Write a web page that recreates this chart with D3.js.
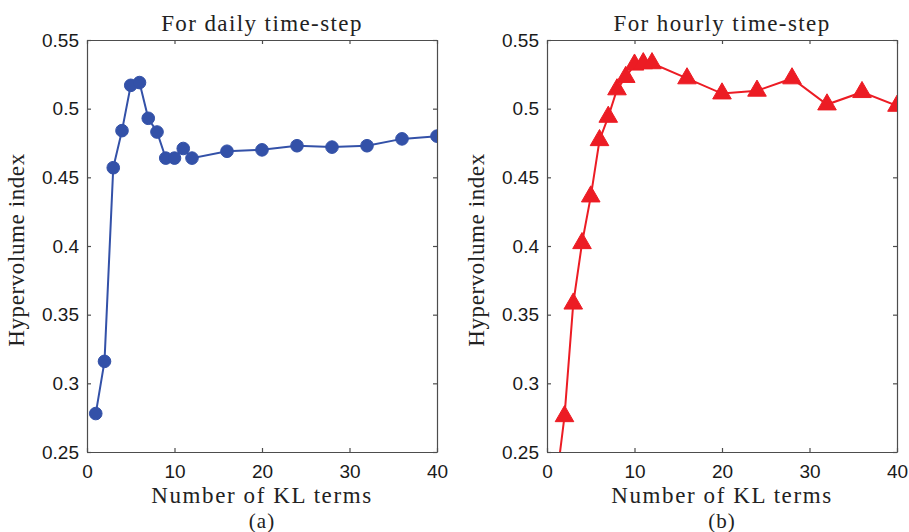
<!DOCTYPE html>
<html>
<head>
<meta charset="utf-8">
<script src="https://cdn.jsdelivr.net/npm/d3@7"></script>
<style>
  body { margin: 0; background: #fff; }
</style>
</head>
<body>
<script>
// KL terms and hypervolume values
const dailyTerms = [1, 2, 3, 4, 5, 6, 7, 8, 9, 10, 11, 12, 16, 20, 24, 28, 32, 36, 40]
const dailyHv = [0.278, 0.316, 0.457, 0.484, 0.517, 0.519, 0.493, 0.483, 0.464, 0.464, 0.471, 0.464, 0.469, 0.470, 0.473, 0.472, 0.473, 0.478, 0.480]

const hourlyTerms = [1, 2, 3, 4, 5, 6, 7, 8, 9, 10, 11, 12, 16, 20, 24, 28, 32, 36, 40]
const hourlyHv = [0.225, 0.276, 0.358, 0.402, 0.436, 0.477, 0.494, 0.514, 0.523, 0.532, 0.533, 0.533, 0.522, 0.511, 0.513, 0.522, 0.503, 0.512, 0.502]

const xTicks = [0, 10, 20, 30, 40]
const yTicks = [0.25, 0.3, 0.35, 0.4, 0.45, 0.5, 0.55]

const width = 909
const height = 532
const serif = '"Liberation Serif", "DejaVu Serif", serif'
const sans = '"Liberation Sans", Arial, sans-serif'

const svg = d3.select('body').append('svg')
  .attr('width', width)
  .attr('height', height)

const panels = [
  { left: 87, title: 'For daily time-step', tag: '(a)', xs: dailyTerms, ys: dailyHv, color: '#3351a8', marker: 'circle' },
  { left: 547, title: 'For hourly time-step', tag: '(b)', xs: hourlyTerms, ys: hourlyHv, color: '#ec1c24', marker: 'triangle' }
]

function label(x, y, txt, spacing, size) {
  return svg.append('text')
    .attr('x', x)
    .attr('y', y)
    .attr('text-anchor', 'middle')
    .style('font-family', serif)
    .style('font-size', (size || 23) + 'px')
    .style('letter-spacing', spacing + 'px')
    .attr('fill', '#222')
    .text(txt)
}

panels.forEach((p, idx) => {
  const w = 350, top = 40, h = 412
  const x = d3.scaleLinear().domain([0, 40]).range([p.left, p.left + w])
  const y = d3.scaleLinear().domain([0.25, 0.55]).range([top + h, top])
  const g = svg.append('g')

  const clipId = 'clip' + idx
  svg.append('clipPath').attr('id', clipId)
    .append('rect').attr('x', p.left).attr('y', top).attr('width', w).attr('height', h)

  // box + inward ticks (matlab style)
  const axisColor = '#4d4d4d'
  g.append('g').attr('transform', `translate(0,${top + h})`)
    .call(d3.axisBottom(x).tickValues(xTicks).tickSizeInner(-4).tickSizeOuter(0).tickPadding(13).tickFormat(d3.format('d')))
  g.append('g').attr('transform', `translate(0,${top})`)
    .call(d3.axisTop(x).tickValues(xTicks).tickSizeInner(-4).tickSizeOuter(0).tickFormat(''))
  g.append('g').attr('transform', `translate(${p.left},0)`)
    .call(d3.axisLeft(y).tickValues(yTicks).tickSizeInner(-4).tickSizeOuter(0).tickPadding(8).tickFormat(d => String(+d.toFixed(2))))
  g.append('g').attr('transform', `translate(${p.left + w},0)`)
    .call(d3.axisRight(y).tickValues(yTicks).tickSizeInner(-4).tickSizeOuter(0).tickFormat(''))

  g.selectAll('.domain, .tick line').attr('stroke', axisColor).attr('stroke-width', 1.2)
  g.selectAll('.tick text')
    .style('font-family', sans)
    .style('font-size', '19px')
    .attr('fill', '#1a1a1a')

  const pts = p.xs.map((v, i) => [v, p.ys[i]])

  const plot = g.append('g').attr('clip-path', `url(#${clipId})`)
  plot.append('path')
    .datum(pts)
    .attr('d', d3.line().x(d => x(d[0])).y(d => y(d[1])))
    .attr('fill', 'none')
    .attr('stroke', p.color)
    .attr('stroke-width', 2)

  const sym = p.marker === 'circle' ? d3.symbol().type(d3.symbolCircle).size(125)
    : d3.symbol().type(d3.symbolTriangle).size(150)
  plot.selectAll('.mark')
    .data(pts)
    .enter().append('path')
    .attr('class', 'mark')
    .attr('transform', d => `translate(${x(d[0])},${y(d[1])})`)
    .attr('d', sym)
    .attr('fill', p.color)
    .attr('stroke', p.color)
    .attr('stroke-width', 1)

  label(p.left + w / 2, 31, p.title, 1.4)
  label(p.left + w / 2, 503, 'Number of KL terms', 1.6)
  label(p.left + w / 2, 528, p.tag, 1, 21)

  label(0, 0, 'Hypervolume index', 0.6)
    .attr('x', null).attr('y', null)
    .attr('transform', `translate(${p.left - 63},${top + h / 2 + 4}) rotate(-90)`)
})
</script>
</body>
</html>
